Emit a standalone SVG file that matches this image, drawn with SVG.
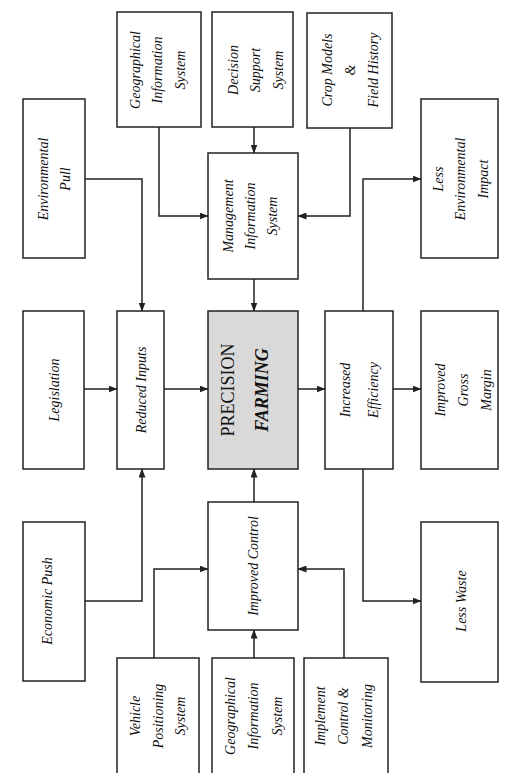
<svg xmlns="http://www.w3.org/2000/svg" width="510" height="773" viewBox="0 0 510 773">
<style>
.box{fill:#fff;stroke:#222;stroke-width:1.5}
.pf{fill:#d9d9d9;stroke:#222;stroke-width:1.5}
.t{font-family:"Liberation Serif","Times New Roman",serif;font-style:italic;font-size:14px;fill:#111;text-anchor:middle}
.c{fill:none;stroke:#222;stroke-width:1.5}
</style>
<defs>
<marker id="ah" markerWidth="9" markerHeight="7" refX="8.5" refY="3.5" orient="auto" markerUnits="userSpaceOnUse">
<path d="M0,0 L9,3.5 L0,7 Z" fill="#222"/>
</marker>
</defs>
<rect width="510" height="773" fill="#fff"/>
<g id="connectors">
<path class="c" d="M159,127 V216 H208" marker-end="url(#ah)"/>
<path class="c" d="M254,127 V153" marker-end="url(#ah)"/>
<path class="c" d="M350,128 V216 H298" marker-end="url(#ah)"/>
<path class="c" d="M85,179 H142 V311" marker-end="url(#ah)"/>
<path class="c" d="M254,279 V311" marker-end="url(#ah)"/>
<path class="c" d="M84,389 H117" marker-end="url(#ah)"/>
<path class="c" d="M164,389 H208" marker-end="url(#ah)"/>
<path class="c" d="M85,601 H142 V469" marker-end="url(#ah)"/>
<path class="c" d="M254,502 V469" marker-end="url(#ah)"/>
<path class="c" d="M154,658 V569 H208" marker-end="url(#ah)"/>
<path class="c" d="M254,658 V630" marker-end="url(#ah)"/>
<path class="c" d="M344,658 V569 H298" marker-end="url(#ah)"/>
<path class="c" d="M298,389 H325" marker-end="url(#ah)"/>
<path class="c" d="M393,389 H421" marker-end="url(#ah)"/>
<path class="c" d="M363,311 V179 H421" marker-end="url(#ah)"/>
<path class="c" d="M363,469 V601 H421" marker-end="url(#ah)"/>
</g>
<g id="geo-top">
<rect class="box" x="117" y="12" width="84" height="115"/>
<text class="t" transform="translate(159,70) rotate(-90)"><tspan x="0" y="-19">Geographical</tspan><tspan x="0" y="3">Information</tspan><tspan x="0" y="26">System</tspan></text>
</g>
<g id="dss">
<rect class="box" x="212" y="12" width="81" height="115"/>
<text class="t" transform="translate(254,70) rotate(-90)"><tspan x="0" y="-16">Decision</tspan><tspan x="0" y="6">Support</tspan><tspan x="0" y="29">System</tspan></text>
</g>
<g id="crop">
<rect class="box" x="307" y="13" width="85" height="115"/>
<text class="t" transform="translate(350,70) rotate(-90)"><tspan x="0" y="-18">Crop Models</tspan><tspan x="0" y="5">&amp;</tspan><tspan x="0" y="28">Field History</tspan></text>
</g>
<g id="env-pull">
<rect class="box" x="23" y="99" width="62" height="159"/>
<text class="t" transform="translate(54,179) rotate(-90)"><tspan x="0" y="-6">Environmental</tspan><tspan x="0" y="16">Pull</tspan></text>
</g>
<g id="mis">
<rect class="box" x="208" y="153" width="90" height="126"/>
<text class="t" transform="translate(253,216) rotate(-90)"><tspan x="0" y="-20">Management</tspan><tspan x="0" y="2">Information</tspan><tspan x="0" y="24">System</tspan></text>
</g>
<g id="lei">
<rect class="box" x="421" y="99" width="77" height="159"/>
<text class="t" transform="translate(460,179) rotate(-90)"><tspan x="0" y="-17">Less</tspan><tspan x="0" y="5">Environmental</tspan><tspan x="0" y="28">Impact</tspan></text>
</g>
<g id="legislation">
<rect class="box" x="23" y="311" width="61" height="158"/>
<text class="t" transform="translate(54,390) rotate(-90)"><tspan x="0" y="5">Legislation</tspan></text>
</g>
<g id="reduced-inputs">
<rect class="box" x="117" y="311" width="47" height="158"/>
<text class="t" transform="translate(141,390) rotate(-90)"><tspan x="0" y="5">Reduced Inputs</tspan></text>
</g>
<g id="precision-farming">
<rect class="pf" x="208" y="311" width="90" height="158"/>
<text transform="translate(253,390) rotate(-90)" text-anchor="middle" fill="#111"><tspan x="0" y="-19" font-family="Liberation Serif, Times New Roman, serif" font-size="18">PRECISION</tspan><tspan x="0" y="15" font-family="Liberation Serif, Times New Roman, serif" font-size="18" font-weight="bold" font-style="italic">FARMING</tspan></text>
</g>
<g id="increased-efficiency">
<rect class="box" x="325" y="311" width="68" height="158"/>
<text class="t" transform="translate(359,390) rotate(-90)"><tspan x="0" y="-9">Increased</tspan><tspan x="0" y="19">Efficiency</tspan></text>
</g>
<g id="igm">
<rect class="box" x="421" y="311" width="77" height="158"/>
<text class="t" transform="translate(463,390) rotate(-90)"><tspan x="0" y="-18">Improved</tspan><tspan x="0" y="5">Gross</tspan><tspan x="0" y="28">Margin</tspan></text>
</g>
<g id="improved-control">
<rect class="box" x="208" y="502" width="90" height="128"/>
<text class="t" transform="translate(253,566) rotate(-90)"><tspan x="0" y="5">Improved Control</tspan></text>
</g>
<g id="econ-push">
<rect class="box" x="23" y="522" width="62" height="159"/>
<text class="t" transform="translate(47,601) rotate(-90)"><tspan x="0" y="5">Economic Push</tspan></text>
</g>
<g id="less-waste">
<rect class="box" x="421" y="522" width="77" height="160"/>
<text class="t" transform="translate(461,601) rotate(-90)"><tspan x="0" y="5">Less Waste</tspan></text>
</g>
<g id="vps">
<rect class="box" x="117" y="658" width="82" height="118"/>
<text class="t" transform="translate(158,716) rotate(-90)"><tspan x="0" y="-18">Vehicle</tspan><tspan x="0" y="5">Positioning</tspan><tspan x="0" y="27">System</tspan></text>
</g>
<g id="geo-bottom">
<rect class="box" x="212" y="658" width="82" height="118"/>
<text class="t" transform="translate(253,716) rotate(-90)"><tspan x="0" y="-18">Geographical</tspan><tspan x="0" y="5">Information</tspan><tspan x="0" y="29">System</tspan></text>
</g>
<g id="implement">
<rect class="box" x="304" y="658" width="84" height="118"/>
<text class="t" transform="translate(344,716) rotate(-90)"><tspan x="0" y="-19">Implement</tspan><tspan x="0" y="4">Control &amp;</tspan><tspan x="0" y="28">Monitoring</tspan></text>
</g>
</svg>
